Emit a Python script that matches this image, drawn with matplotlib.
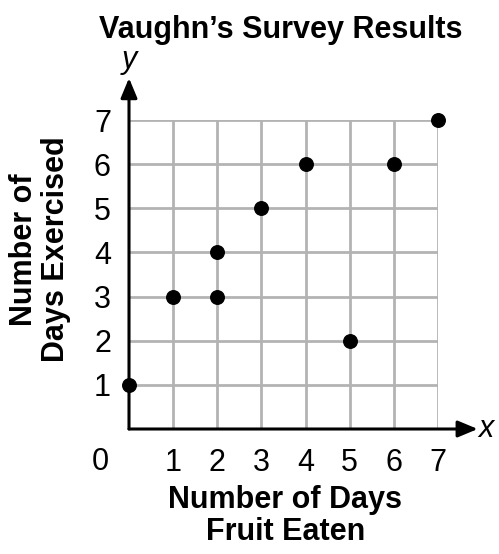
import matplotlib.pyplot as plt

# Данни: дни с плодове (x) и дни с упражнения (y)
dni_plodove = [0, 1, 2, 2, 3, 4, 5, 6, 7]
dni_uprazhnenia = [1, 3, 3, 4, 5, 6, 2, 6, 7]
x_etiketi = [1, 2, 3, 4, 5, 6, 7]
y_etiketi = [1, 2, 3, 4, 5, 6, 7]

plt.rcParams['font.family'] = ['Liberation Sans', 'DejaVu Sans']

fig = plt.figure(figsize=(4.99, 5.54), dpi=100)
ax = fig.add_axes([129 / 499, 1 - 429 / 554, 309 / 499, 309 / 554])
ax.set_xlim(0, 7)
ax.set_ylim(0, 7)

# мрежа
for v in range(1, 8):
    ax.axvline(v, color='#b3b3b3', lw=2, zorder=1)
    ax.axhline(v, color='#b3b3b3', lw=2, zorder=1)

for s in ax.spines.values():
    s.set_visible(False)

# оси със стрелки
strelka = dict(arrowstyle='-|>,head_length=1.2,head_width=0.5', color='black', lw=2.2,
               shrinkA=0, shrinkB=0)
ax.annotate('', xy=(7.9, 0), xytext=(0, 0), arrowprops=strelka,
            annotation_clip=False, zorder=3)
ax.annotate('', xy=(0, 7.95), xytext=(0, 0), arrowprops=strelka,
            annotation_clip=False, zorder=3)

ax.scatter(dni_plodove, dni_uprazhnenia, s=95, color='black', zorder=4, clip_on=False)

ax.set_xticks(x_etiketi)
ax.set_yticks(y_etiketi)
ax.set_xticklabels([str(v) for v in x_etiketi], fontsize=22)
ax.set_yticklabels([str(v) for v in y_etiketi], fontsize=22)
ax.tick_params(axis='x', length=0, pad=14)
ax.tick_params(axis='y', length=0, pad=13)
ax.text(-0.65, -0.75, '0', fontsize=22, ha='center', va='center')

ax.text(0, 8.35, 'y', fontsize=22, style='italic', ha='center', va='center')
ax.text(8.08, 0, 'x', fontsize=22, style='italic', ha='center', va='center')

fig.text(0.563, 0.945, 'Vaughn\u2019s Survey Results', fontsize=22, fontweight='bold',
         ha='center', va='center')
fig.text(0.572, 0.068, 'Number of Days\nFruit Eaten', fontsize=22, fontweight='bold',
         ha='center', va='center', linespacing=1.1)
fig.text(0.08, 0.55, 'Number of\nDays Exercised', fontsize=22, fontweight='bold',
         ha='center', va='center', rotation=90, linespacing=1.1)

fig.savefig('out.png', dpi=100)
